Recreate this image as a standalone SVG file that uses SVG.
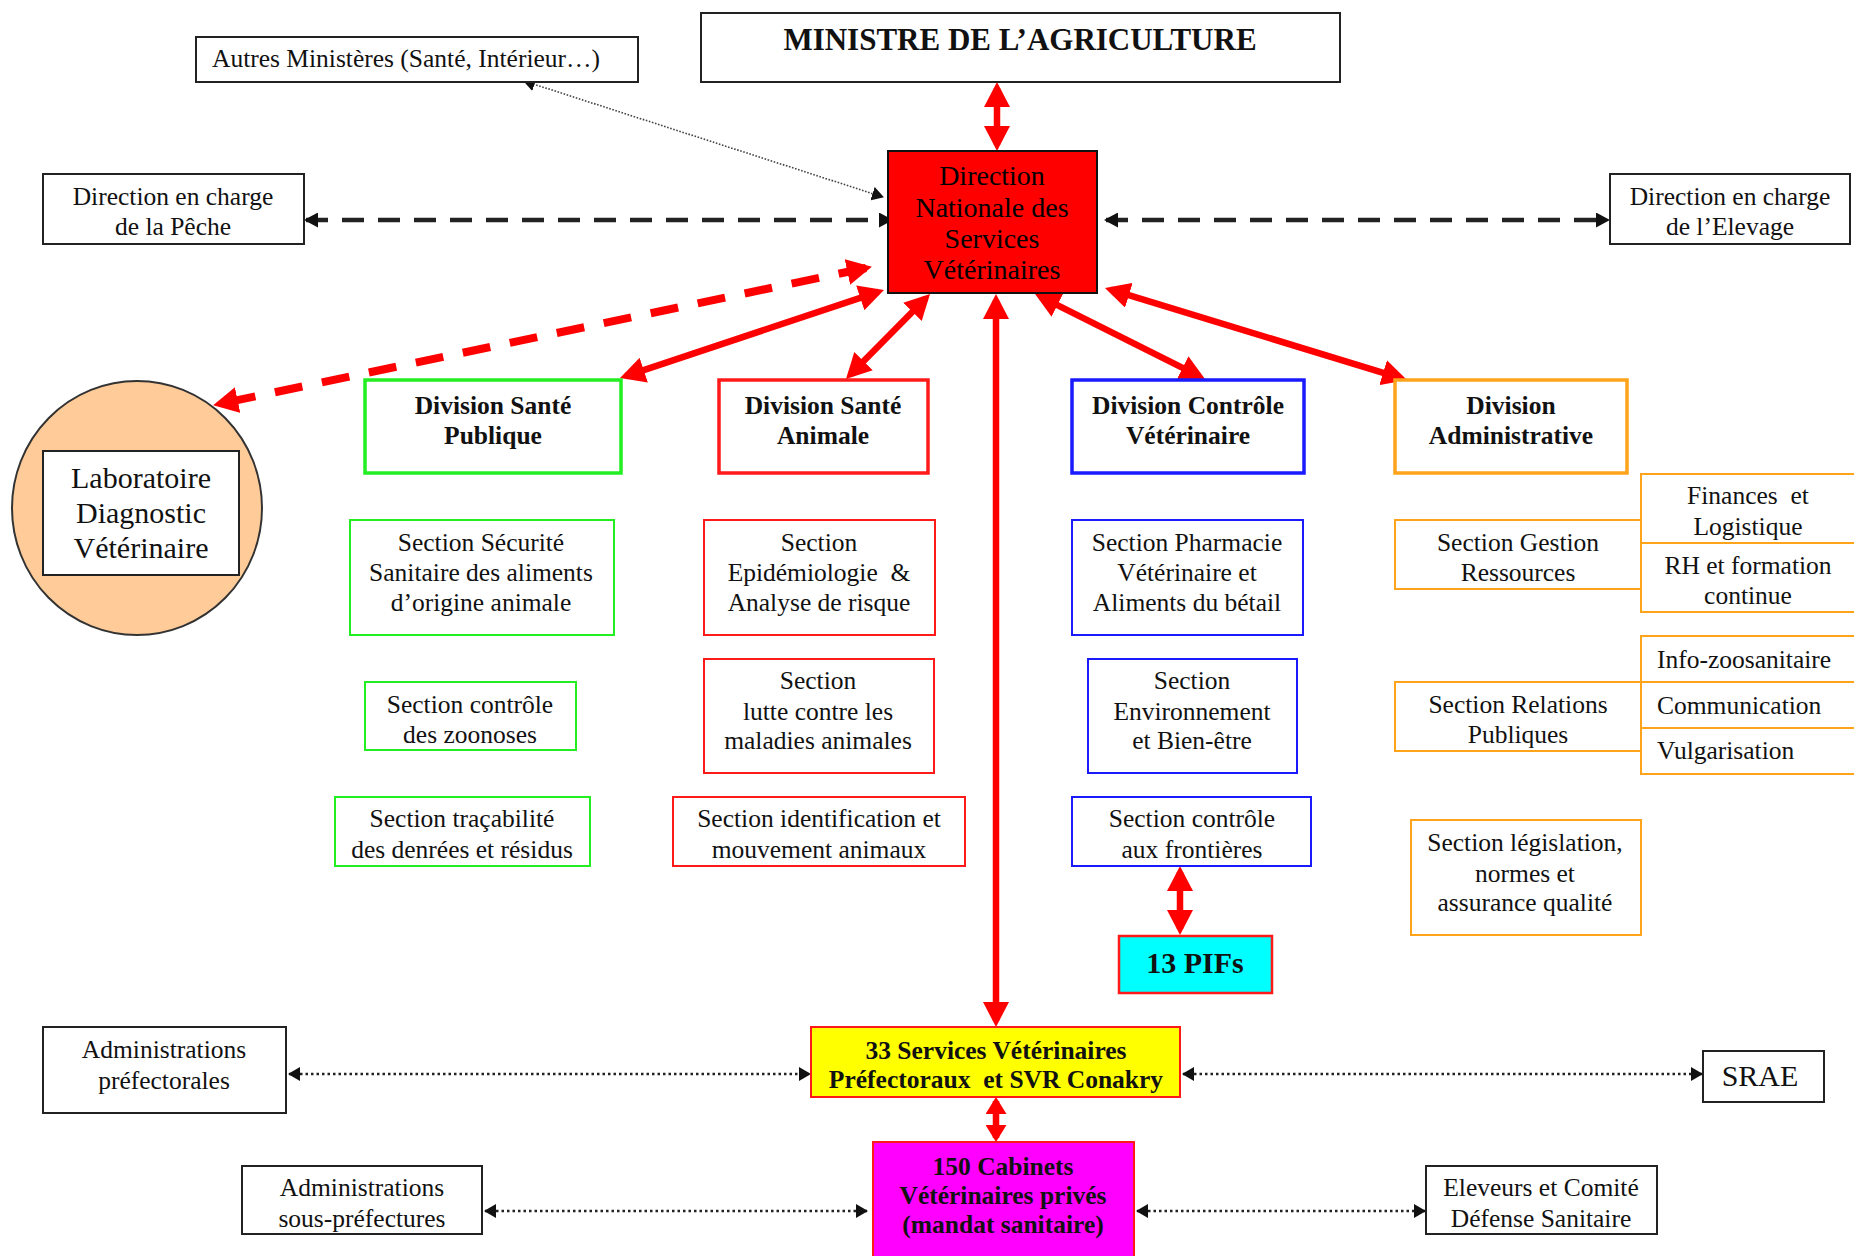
<svg xmlns="http://www.w3.org/2000/svg" width="1854" height="1256" viewBox="0 0 1854 1256">
<style>
.t{font-family:"Liberation Serif","Times New Roman",serif;font-size:25.5px;fill:#111;text-anchor:middle}
.b{font-weight:bold}
.l{text-anchor:start}
.big{font-size:30px}
.bx{fill:#fff;stroke:#222;stroke-width:2}
.g{fill:#fff;stroke:#22ee22}
.r{fill:#fff;stroke:#ff1a1a}
.bl{fill:#fff;stroke:#1a1aff}
.o{fill:#fff;stroke:#ffa31a}
.div{stroke-width:3.5}
.sec{stroke-width:2}
.redline{stroke:#ff0000;stroke-width:6.5;fill:none}
.blkdash{stroke:#222;stroke-width:4.5;stroke-dasharray:22 14;fill:none}
.dots{stroke:#222;stroke-width:2.5;stroke-dasharray:2.5 3;fill:none}
.thin{stroke:#444;stroke-width:1.6;stroke-dasharray:1.6 1.6;fill:none}
</style>
<defs>
<marker id="ar" markerUnits="userSpaceOnUse" markerWidth="25" markerHeight="26" viewBox="0 0 25 26" refX="19" refY="13" orient="auto-start-reverse"><path d="M0,0 L25,13 L0,26 z" fill="#ff0000"/></marker>
<marker id="ars" markerUnits="userSpaceOnUse" markerWidth="17" markerHeight="21" viewBox="0 0 17 21" refX="13" refY="10.5" orient="auto-start-reverse"><path d="M0,0 L17,10.5 L0,21 z" fill="#ff0000"/></marker>
<marker id="ak" markerUnits="userSpaceOnUse" markerWidth="14" markerHeight="15" viewBox="0 0 14 15" refX="12" refY="7.5" orient="auto-start-reverse"><path d="M0,0 L14,7.5 L0,15 z" fill="#111"/></marker>
<marker id="ad" markerUnits="userSpaceOnUse" markerWidth="12" markerHeight="14" viewBox="0 0 12 14" refX="11" refY="7" orient="auto-start-reverse"><path d="M0,0 L12,7 L0,14 z" fill="#111"/></marker>
</defs>

<g id="connectors">
<line class="redline" x1="997" y1="88" x2="997" y2="145" marker-start="url(#ar)" marker-end="url(#ar)"/>
<line class="redline" x1="878.3" y1="291.9" x2="625.7" y2="376.1" marker-start="url(#ar)" marker-end="url(#ar)"/>
<line class="redline" x1="925.8" y1="298.3" x2="850.2" y2="374.7" marker-start="url(#ar)" marker-end="url(#ar)"/>
<line class="redline" x1="996" y1="300" x2="996" y2="1021" marker-start="url(#ar)" marker-end="url(#ar)"/>
<line class="redline" x1="1040.4" y1="296.7" x2="1199.6" y2="376.3" marker-start="url(#ar)" marker-end="url(#ar)"/>
<line class="redline" x1="1110.7" y1="289.7" x2="1401.3" y2="378.3" marker-start="url(#ar)" marker-end="url(#ar)"/>
<line class="redline" x1="1180" y1="872" x2="1180" y2="929" marker-start="url(#ar)" marker-end="url(#ar)"/>
<line class="redline" x1="996" y1="1101" x2="996" y2="1138" marker-start="url(#ars)" marker-end="url(#ars)"/>
<line x1="866" y1="268" x2="219" y2="404" stroke="#ff0000" stroke-width="8" stroke-dasharray="28 20" fill="none" marker-start="url(#ar)" marker-end="url(#ar)"/>
<line class="blkdash" x1="306" y1="220" x2="891" y2="220" marker-start="url(#ak)" marker-end="url(#ak)"/>
<line class="blkdash" x1="1106" y1="220" x2="1608" y2="220" marker-start="url(#ak)" marker-end="url(#ak)"/>
<line class="thin" x1="524" y1="81" x2="883" y2="197" marker-start="url(#ad)" marker-end="url(#ad)"/>
<line class="dots" x1="289" y1="1074" x2="810" y2="1074" marker-start="url(#ad)" marker-end="url(#ad)"/>
<line class="dots" x1="1183" y1="1074" x2="1702" y2="1074" marker-start="url(#ad)" marker-end="url(#ad)"/>
<line class="dots" x1="485" y1="1211" x2="867" y2="1211" marker-start="url(#ad)" marker-end="url(#ad)"/>
<line class="dots" x1="1137" y1="1211" x2="1425" y2="1211" marker-start="url(#ad)" marker-end="url(#ad)"/>
</g>

<g id="ministre"><rect class="bx" x="701" y="13" width="639" height="69"/><text class="t b" x="1020" y="50" style="font-size:31px">MINISTRE DE L’AGRICULTURE</text></g>
<g id="autres"><rect class="bx" x="196" y="37" width="442" height="45"/><text class="t" x="406" y="67">Autres Ministères (Santé, Intérieur…)</text></g>
<g id="dnsv"><rect x="888" y="151" width="209" height="142" fill="#ff0000" stroke="#111" stroke-width="2"/>
<text class="t" style="font-size:28px;fill:#000"><tspan x="992" y="185">Direction</tspan><tspan x="992" y="217">Nationale des</tspan><tspan x="992" y="248">Services</tspan><tspan x="992" y="279">Vétérinaires</tspan></text></g>
<g id="peche"><rect class="bx" x="43" y="174" width="261" height="70"/><text class="t"><tspan x="173" y="205">Direction en charge</tspan><tspan x="173" y="235">de la Pêche</tspan></text></g>
<g id="elevage"><rect class="bx" x="1610" y="174" width="240" height="70"/><text class="t"><tspan x="1730" y="205">Direction en charge</tspan><tspan x="1730" y="235">de l’Elevage</tspan></text></g>

<g id="labo"><ellipse cx="137" cy="508" rx="125" ry="127" fill="#ffcc99" stroke="#333" stroke-width="2"/><rect class="bx" x="43" y="451" width="196" height="124"/>
<text class="t big"><tspan x="141" y="488">Laboratoire</tspan><tspan x="141" y="523">Diagnostic</tspan><tspan x="141" y="558">Vétérinaire</tspan></text></g>

<g id="div-sp"><rect class="g div" x="365" y="380" width="256" height="93"/><text class="t b"><tspan x="493" y="414">Division Santé</tspan><tspan x="493" y="444">Publique</tspan></text></g>
<g id="div-sa"><rect class="r div" x="719" y="380" width="209" height="93"/><text class="t b"><tspan x="823" y="414">Division Santé</tspan><tspan x="823" y="444">Animale</tspan></text></g>
<g id="div-cv"><rect class="bl div" x="1072" y="380" width="232" height="93"/><text class="t b"><tspan x="1188" y="414">Division Contrôle</tspan><tspan x="1188" y="444">Vétérinaire</tspan></text></g>
<g id="div-adm"><rect class="o div" x="1395" y="380" width="232" height="93"/><text class="t b"><tspan x="1511" y="414">Division</tspan><tspan x="1511" y="444">Administrative</tspan></text></g>

<g id="sec-ssa"><rect class="g sec" x="350" y="520" width="264" height="115"/><text class="t"><tspan x="481" y="551">Section Sécurité</tspan><tspan x="481" y="581">Sanitaire des aliments</tspan><tspan x="481" y="611">d’origine animale</tspan></text></g>
<g id="sec-zoo"><rect class="g sec" x="365" y="682" width="211" height="68"/><text class="t"><tspan x="470" y="713">Section contrôle</tspan><tspan x="470" y="743">des zoonoses</tspan></text></g>
<g id="sec-tra"><rect class="g sec" x="335" y="797" width="255" height="69"/><text class="t"><tspan x="462" y="827">Section traçabilité</tspan><tspan x="462" y="858">des denrées et résidus</tspan></text></g>

<g id="sec-epi"><rect class="r sec" x="704" y="520" width="231" height="115"/><text class="t"><tspan x="819" y="551">Section</tspan><tspan x="819" y="581">Epidémiologie&#160; &amp;</tspan><tspan x="819" y="611">Analyse de risque</tspan></text></g>
<g id="sec-lut"><rect class="r sec" x="704" y="659" width="230" height="114"/><text class="t"><tspan x="818" y="689">Section</tspan><tspan x="818" y="720">lutte contre les</tspan><tspan x="818" y="749">maladies animales</tspan></text></g>
<g id="sec-ide"><rect class="r sec" x="673" y="797" width="292" height="69"/><text class="t"><tspan x="819" y="827">Section identification et</tspan><tspan x="819" y="858">mouvement animaux</tspan></text></g>

<g id="sec-pha"><rect class="bl sec" x="1072" y="520" width="231" height="115"/><text class="t"><tspan x="1187" y="551">Section Pharmacie</tspan><tspan x="1187" y="581">Vétérinaire et</tspan><tspan x="1187" y="611">Aliments du bétail</tspan></text></g>
<g id="sec-env"><rect class="bl sec" x="1088" y="659" width="209" height="114"/><text class="t"><tspan x="1192" y="689">Section</tspan><tspan x="1192" y="720">Environnement</tspan><tspan x="1192" y="749">et Bien-être</tspan></text></g>
<g id="sec-fro"><rect class="bl sec" x="1072" y="797" width="239" height="69"/><text class="t"><tspan x="1192" y="827">Section contrôle</tspan><tspan x="1192" y="858">aux frontières</tspan></text></g>
<g id="pifs"><rect x="1119" y="936" width="153" height="57" fill="#00ffff" stroke="#ff1a1a" stroke-width="2.5"/><text class="t b big" x="1195" y="973">13 PIFs</text></g>

<g id="sec-ges"><rect class="o sec" x="1395" y="520" width="246" height="69"/><text class="t"><tspan x="1518" y="551">Section Gestion</tspan><tspan x="1518" y="581">Ressources</tspan></text></g>
<g id="fin"><rect class="o sec" x="1641" y="474" width="216" height="69"/><text class="t"><tspan x="1748" y="504">Finances&#160; et</tspan><tspan x="1748" y="535">Logistique</tspan></text></g>
<g id="rh"><rect class="o sec" x="1641" y="543" width="216" height="69"/><text class="t"><tspan x="1748" y="574">RH et formation</tspan><tspan x="1748" y="604">continue</tspan></text></g>
<g id="sec-rel"><rect class="o sec" x="1395" y="682" width="246" height="69"/><text class="t"><tspan x="1518" y="713">Section Relations</tspan><tspan x="1518" y="743">Publiques</tspan></text></g>
<g id="info"><rect class="o sec" x="1641" y="636" width="216" height="46"/><text class="t l" x="1657" y="668">Info-zoosanitaire</text></g>
<g id="comm"><rect class="o sec" x="1641" y="682" width="216" height="46"/><text class="t l" x="1657" y="714">Communication</text></g>
<g id="vulg"><rect class="o sec" x="1641" y="728" width="216" height="46"/><text class="t l" x="1657" y="759">Vulgarisation</text></g>
<g id="sec-leg"><rect class="o sec" x="1411" y="820" width="230" height="115"/><text class="t"><tspan x="1525" y="851">Section législation,</tspan><tspan x="1525" y="882">normes et</tspan><tspan x="1525" y="911">assurance qualité</tspan></text></g>

<g id="svp"><rect x="811" y="1027" width="369" height="70" fill="#ffff00" stroke="#ff1a1a" stroke-width="2"/><text class="t b"><tspan x="996" y="1059">33 Services Vétérinaires</tspan><tspan x="996" y="1088">Préfectoraux&#160; et SVR Conakry</tspan></text></g>
<g id="cabinets"><rect x="873" y="1142" width="261" height="120" fill="#ff00ff" stroke="#ff1a1a" stroke-width="2"/><text class="t b"><tspan x="1003" y="1175">150 Cabinets</tspan><tspan x="1003" y="1204">Vétérinaires privés</tspan><tspan x="1003" y="1233">(mandat sanitaire)</tspan></text></g>
<g id="adm-pref"><rect class="bx" x="43" y="1027" width="243" height="86"/><text class="t"><tspan x="164" y="1058">Administrations</tspan><tspan x="164" y="1089">préfectorales</tspan></text></g>
<g id="adm-sous"><rect class="bx" x="242" y="1166" width="240" height="68"/><text class="t"><tspan x="362" y="1196">Administrations</tspan><tspan x="362" y="1227">sous-préfectures</tspan></text></g>
<g id="srae"><rect class="bx" x="1703" y="1051" width="121" height="51"/><text class="t big" x="1760" y="1086">SRAE</text></g>
<g id="eleveurs"><rect class="bx" x="1426" y="1166" width="231" height="68"/><text class="t"><tspan x="1541" y="1196">Eleveurs et Comité</tspan><tspan x="1541" y="1227">Défense Sanitaire</tspan></text></g>
</svg>
